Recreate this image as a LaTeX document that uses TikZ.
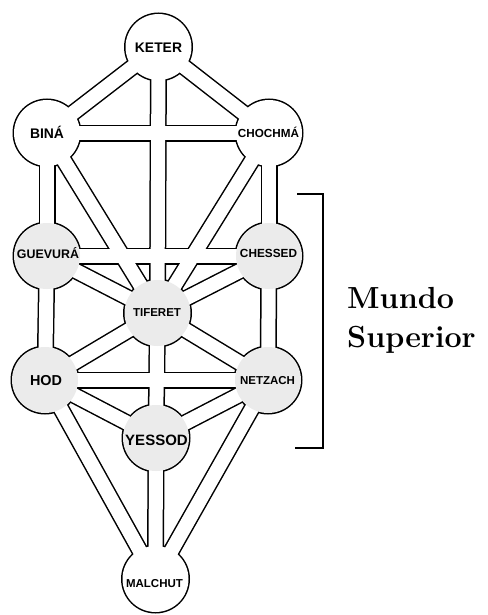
\documentclass[tikz,border=0pt]{standalone}
\usepackage{fontspec}
\newfontfamily\labfont{Liberation Sans}
\begin{document}
\begin{tikzpicture}[x=1pt,y=-1pt,
  chanout/.style={line width=17pt,black},
  chanin/.style={line width=14pt,white},
  sef/.style={circle,inner sep=0pt,minimum size=66pt},
  lit/.style={sef,fill=white},
  shade/.style={sef,fill=black!8},
  lab/.style={anchor=base,inner sep=0pt,font=\labfont\bfseries},
  bracket/.style={line width=1.3pt},
  title/.style={anchor=base west,inner sep=0pt,font=\bfseries\fontsize{30.5}{36}\selectfont}]
\useasboundingbox (0,0) rectangle (487,615);
% centres
\coordinate (keter) at (158.5,47);
\coordinate (bina) at (47,133);
\coordinate (chochma) at (269,133);
\coordinate (guevura) at (47,256);
\coordinate (chessed) at (269,256);
\coordinate (tiferet) at (157.5,313);
\coordinate (hod) at (45,380);
\coordinate (netzach) at (268,380);
\coordinate (yessod) at (156,438);
\coordinate (malchut) at (155.5,579);
\def\allsef{keter,bina,chochma,guevura,chessed,tiferet,hod,netzach,yessod,malchut}
\def\allpaths{keter/chochma,keter/bina,keter/tiferet,bina/chochma,chochma/tiferet,chochma/chessed,bina/tiferet,bina/guevura,guevura/chessed,chessed/tiferet,chessed/netzach,guevura/tiferet,guevura/hod,tiferet/netzach,tiferet/yessod,tiferet/hod,hod/netzach,netzach/yessod,netzach/malchut,hod/yessod,hod/malchut,yessod/malchut}
% outer rings
\foreach \s in \allsef {\fill[black] (\s) circle (34.5);}
% channels
\foreach \a/\b in \allpaths {\draw[chanout] (\a) -- (\b);}
\foreach \a/\b in \allpaths {\draw[chanin] (\a) -- (\b);}
% sefirot
\node[lit] (keterN) at (keter) {};
\node[lit] (binaN) at (bina) {};
\node[lit] (chochmaN) at (chochma) {};
\node[shade] (guevuraN) at (guevura) {};
\node[shade] (chessedN) at (chessed) {};
\node[shade] (tiferetN) at (tiferet) {};
\node[shade] (hodN) at (hod) {};
\node[shade] (netzachN) at (netzach) {};
\node[shade] (yessodN) at (yessod) {};
\node[lit] (malchutN) at (malchut) {};
% labels
\node[lab,font=\labfont\bfseries\fontsize{13.9}{14}\selectfont] (keterL) at (158.5,53) {KETER};
\node[lab,font=\labfont\bfseries\fontsize{13.9}{14}\selectfont] (binaL) at (47,138) {BINÁ};
\node[lab,font=\labfont\bfseries\fontsize{11.7}{12}\selectfont] (chochmaL) at (268.5,137) {CHOCHMÁ};
\node[lab,font=\labfont\bfseries\fontsize{12.4}{12}\selectfont] (guevuraL) at (48,258.4) {GUEVURÁ};
\node[lab,font=\labfont\bfseries\fontsize{11.8}{12}\selectfont] (chessedL) at (268.5,257.2) {CHESSED};
\node[lab,font=\labfont\bfseries\fontsize{11.5}{12}\selectfont] (tiferetL) at (157,316.1) {TIFERET};
\node[lab,font=\labfont\bfseries\fontsize{14.4}{14}\selectfont] (hodL) at (46,385.2) {HOD};
\node[lab,font=\labfont\bfseries\fontsize{11.5}{12}\selectfont] (netzachL) at (267.5,384.2) {NETZACH};
\node[lab,font=\labfont\bfseries\fontsize{15}{15}\selectfont] (yessodL) at (156.5,445.4) {YESSOD};
\node[lab,font=\labfont\bfseries\fontsize{11.5}{12}\selectfont] (malchutL) at (154.5,587.2) {MALCHUT};
% bracket
\coordinate (bt) at (297,194);
\coordinate (btc) at (323,194);
\coordinate (bbc) at (323,448);
\coordinate (bb) at (295,448);
\draw[bracket] (bt) -- (btc) -- (bbc) -- (bb);
\node[title] (mundo) at (347,308) {Mundo};
\node[title] (superior) at (347,347) {Superior};
\end{tikzpicture}
\end{document}
